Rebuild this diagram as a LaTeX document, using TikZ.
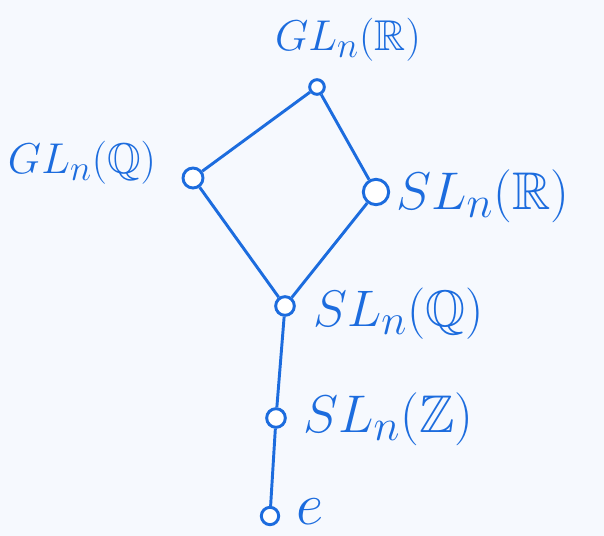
\documentclass[tikz,border=0pt]{standalone}
\usepackage{amsmath,amssymb}
\usepackage{graphicx}
\usepackage{xcolor}
\usetikzlibrary{positioning}

\definecolor{pen}{RGB}{28,108,222}
\definecolor{paper}{RGB}{246,249,254}
\newcommand{\grplabel}[2][1.25]{\scalebox{#1}{$#2$}}

\begin{document}
\begin{tikzpicture}[x=0.75pt, y=-0.75pt,
  grp/.style={circle, draw=pen, line width=2.2pt, fill=white, inner sep=0pt, minimum size=#1},
  grp/.default=11pt,
  lab/.style={text=pen, font=\Huge, inner sep=0pt},
  edge/.style={draw=pen, line width=2.2pt}]
\fill[paper] (0,0) rectangle (604,536);
\useasboundingbox (0,0) rectangle (604,536);
% subgroup lattice
\node[grp=11pt] (glr) at (317,87) {};
\node[grp=15pt] (glq) at (193,178) {};
\node[grp=19pt] (slr) at (376,192) {};
\node[grp=14pt] (slq) at (285,306) {};
\node[grp=14pt] (slz) at (276,418) {};
\node[grp=13pt] (e) at (270,516) {};
\path[edge] (glr) -- (glq) (glr) -- (slr) (glq) -- (slq) (slr) -- (slq)
  (slq) -- (slz) (slz) -- (e);
% labels
\node[lab] (tglr) at (348,40) {\grplabel[1.3]{GL_n(\mathbb{R})}};
\node[lab] (tglq) at (82,163) {\grplabel[1.3]{GL_n(\mathbb{Q})}};
\node[lab, anchor=west] (tslr) at (396,196) {\grplabel[1.6]{SL_n(\mathbb{R})}};
\node[lab, anchor=west] (tslq) at (313,314) {\grplabel[1.55]{SL_n(\mathbb{Q})}};
\node[lab, anchor=west] (tslz) at (303,419) {\grplabel[1.6]{SL_n(\mathbb{Z})}};
\node[lab, anchor=west] (te) at (296,512) {\grplabel[1.8]{e}};
\end{tikzpicture}
\end{document}
